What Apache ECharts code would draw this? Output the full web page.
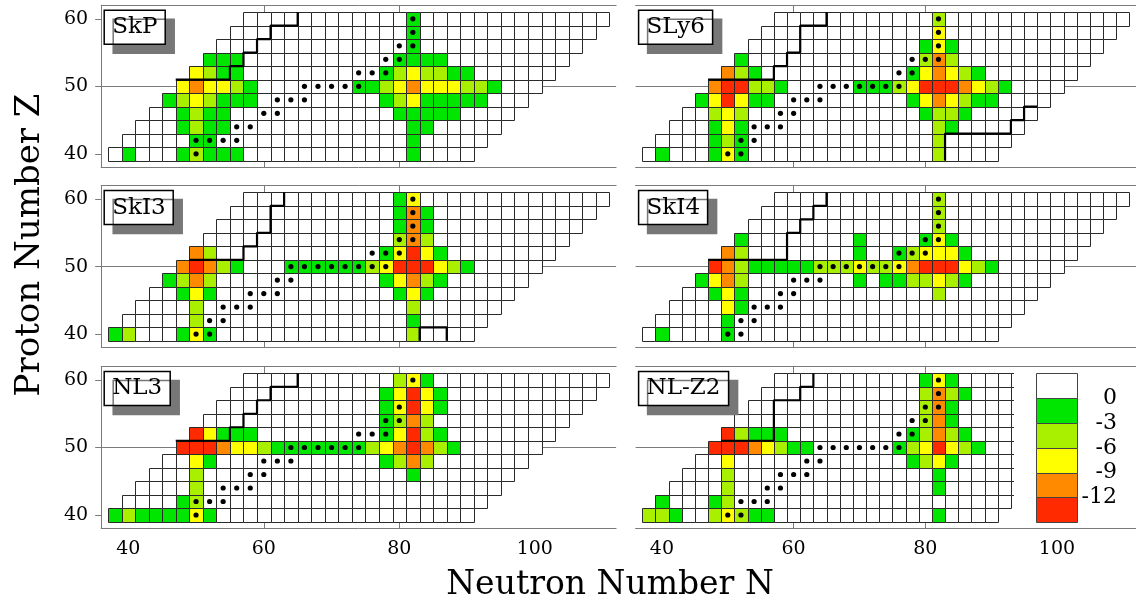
<!DOCTYPE html>
<html>
<head>
<meta charset="utf-8">
<script src="https://cdn.jsdelivr.net/npm/echarts@6/dist/echarts.min.js"></script>
<style>
html, body { margin: 0; padding: 0; background: #fff; }
#chart { width: 1136px; height: 605px; }
</style>
</head>
<body>
<div id="chart"></div>
<script>
// colour classes (energy bins of the colour bar)
const G = -1.5, L = -4.5, Y = -7.5, O = -10.5, R = -13.5;

// nuclide rows: proton number and first / last neutron number drawn
const rowZ      = [40, 42, 44, 46, 48, 50, 52, 54, 56, 58, 60];
const rowFirstN = [38, 40, 42, 44, 46, 48, 50, 52, 54, 56, 58];
const rowLastN  = [90, 92, 94, 96, 98, 100, 102, 104, 106, 108, 110];

const panelNames = ['SkP', 'SLy6', 'SkI3', 'SkI4', 'NL3', 'NL-Z2'];

// coloured cells as runs: [Z, first N, value, value, ...] (N steps by 2)
const skpRuns = [
  [60, 82, G], [58, 82, G], [56, 82, G],
  [54, 52, G, G, G], [54, 80, G, G, G, G],
  [52, 50, Y, L, G, G], [52, 78, G, L, Y, L, L, G, G],
  [50, 48, Y, O, Y, Y, L, G], [50, 74, G, G, L, Y, O, Y, Y, Y, L, L, G],
  [48, 46, G, L, Y, L, G, G, G], [48, 78, G, L, Y, G, G, G, G, G],
  [46, 48, G, L, G, G], [46, 80, G, G, G, G, G],
  [44, 48, G, L, G, G], [44, 82, G, G],
  [42, 50, G, G], [42, 82, G],
  [40, 40, G], [40, 48, G, L, G, G, G], [40, 82, G]
];
const sly6Runs = [
  [60, 82, L], [58, 82, Y], [56, 80, G, Y, G],
  [54, 52, G], [54, 80, L, O, L],
  [52, 50, O, L, G], [52, 78, G, Y, O, Y, L, G],
  [50, 48, O, R, R, L, L, G], [50, 70, G, G, G, L, Y, R, R, R, O, Y, L, G],
  [48, 46, G, Y, R, Y, G, G], [48, 78, G, Y, O, Y, L, G, G],
  [46, 48, L, Y, L], [46, 80, G, L, L, G],
  [44, 48, G, Y, G], [44, 82, L, G],
  [42, 48, G, L, G], [42, 82, L],
  [40, 40, G], [40, 48, G, Y, G], [40, 82, L]
];
const ski3Runs = [
  [60, 80, G, Y], [58, 80, G, O, G], [56, 80, G, O, G], [54, 80, L, O, L],
  [52, 50, O, L], [52, 78, G, Y, R, Y, G],
  [50, 48, O, R, O, L, G], [50, 64, G, G, G, G, G, G, L, Y, R, R, R, Y, L, G],
  [48, 46, G, L, O, L], [48, 78, G, Y, O, L, G],
  [46, 48, G, Y, G], [46, 80, G, Y, G],
  [44, 50, L], [44, 82, L],
  [42, 50, L], [42, 82, G],
  [40, 38, G, L], [40, 48, G, Y, G], [40, 82, L]
];
const ski4Runs = [
  [60, 82, L], [58, 82, L], [56, 82, L],
  [54, 52, G], [54, 70, G], [54, 80, G, Y, G],
  [52, 50, O, L], [52, 70, G], [52, 76, G, L, Y, Y, Y, G],
  [50, 48, R, O, L, G, G, G, G, G, L, L, L, Y, L, L, Y, O, R, R, R, Y, L, G],
  [48, 46, G, Y, O, L], [48, 70, G], [48, 74, G, G, L, L, Y, L, G],
  [46, 48, G, Y, G], [46, 82, L],
  [44, 50, Y, G],
  [42, 50, G],
  [40, 40, G], [40, 50, G]
];
const nl3Runs = [
  [60, 80, L, Y, G], [58, 78, G, Y, R, Y, G], [56, 78, G, Y, R, Y, G],
  [54, 78, G, L, O, L],
  [52, 50, R, Y, G, G, G], [52, 78, G, Y, R, L, G],
  [50, 48, R, R, R, O, Y, Y, L, G, G, G, G, G, G, G, L, Y, O, R, O, L, G],
  [48, 50, Y, G], [48, 78, G, L, O, L],
  [46, 50, L], [46, 82, G],
  [44, 50, L],
  [42, 48, G, L],
  [40, 38, G, L, G, G, G, G, Y, G]
];
const nlz2Runs = [
  [60, 80, G, Y, G], [58, 80, L, O, L, G], [56, 80, L, O, G], [54, 80, L, O, G],
  [52, 50, R, L, G, G, G], [52, 78, G, L, O, L, G],
  [50, 48, R, R, R, O, Y, L, G, G], [50, 76, G, L, Y, R, Y, L, G],
  [48, 50, Y], [48, 78, G, L, Y, G],
  [46, 50, L], [46, 82, G],
  [44, 50, L], [44, 82, G],
  [42, 40, G], [42, 48, G, L],
  [40, 38, L, L, G], [40, 48, L, Y, L, G, G], [40, 82, G]
];

// marked nuclei (black dots): [Z, N, N, ...]
const skpDots  = [[60, 82], [58, 82], [56, 80, 82], [54, 78, 80], [52, 74, 76, 78], [50, 66, 68, 70, 72, 74], [48, 62, 64, 66], [46, 60, 62], [44, 56, 58], [42, 50, 52, 54, 56], [40, 50]];
const sly6Dots = [[60, 82], [58, 82], [56, 82], [54, 78, 80, 82], [52, 76, 78], [50, 64, 66, 68, 70, 72, 74, 76], [48, 60, 62, 64], [46, 58, 60], [44, 54, 56, 58], [42, 52, 54], [40, 50, 52]];
const ski3Dots = [[60, 82], [58, 82], [56, 82], [54, 80, 82], [52, 76, 78, 80], [50, 64, 66, 68, 70, 72, 74, 76, 78], [48, 62, 64], [46, 58, 60, 62], [44, 54, 56, 58], [42, 52, 54], [40, 50, 52]];
const ski4Dots = [[60, 82], [58, 82], [56, 82], [54, 80, 82], [52, 76, 78, 80], [50, 64, 66, 68, 70, 72, 74, 76], [48, 60, 62, 64], [46, 58, 60], [44, 54, 56, 58], [42, 52, 54], [40, 50, 52]];
const nl3Dots  = [[60, 82], [56, 80], [54, 78, 80], [52, 74, 76, 78], [50, 64, 66, 68, 70, 72, 74], [48, 60, 62, 64], [46, 58, 60], [44, 54, 56, 58], [42, 50, 52, 54], [40, 50]];
const nlz2Dots = [[60, 82], [58, 82], [56, 80, 82], [54, 78, 80], [52, 76, 78], [50, 64, 66, 68, 70, 72, 74, 76], [48, 62, 64], [46, 58, 60, 62], [44, 56, 58], [42, 52, 54, 56], [40, 50, 52]];

// black boundary lines, [N, Z] on cell edges
const skpLines  = [[[47, 51], [55, 51], [55, 53], [57, 53], [57, 55], [59, 55], [59, 57], [61, 57], [61, 59], [65, 59], [65, 61]]];
const sly6Lines = [[[47, 51], [57, 51], [57, 53], [59, 53], [59, 55], [61, 55], [61, 59], [65, 59], [65, 61]],
                   [[83, 39], [83, 43], [93, 43], [93, 45], [95, 45], [95, 47], [97, 47]]];
const ski3Lines = [[[49, 51], [57, 51], [57, 53], [59, 53], [59, 55], [61, 55], [61, 59], [63, 59], [63, 61]],
                   [[83, 39], [83, 41], [87, 41], [87, 39]]];
const ski4Lines = [[[47, 51], [59, 51], [59, 55], [61, 55], [61, 57], [63, 57], [63, 59], [65, 59], [65, 61]]];
const nl3Lines  = [[[47, 51], [55, 51], [55, 53], [57, 53], [57, 55], [59, 55], [59, 57], [61, 57], [61, 59], [65, 59], [65, 61]]];
const nlz2Lines = [[[49, 51], [57, 51], [57, 57], [61, 57], [61, 59], [63, 59], [63, 61]]];

// colour bar: band top, band bottom, value
const barBands = [[3, 0, 1.5], [0, -3, -1.5], [-3, -6, -4.5], [-6, -9, -7.5], [-9, -12, -10.5], [-12, -15, -13.5]];
const barLabels = [0, -3, -6, -9, -12];

const xTicks = [40, 60, 80, 100];
const yTicks = [40, 50, 60];

const allRuns = [skpRuns, sly6Runs, ski3Runs, ski4Runs, nl3Runs, nlz2Runs];
const allDots = [skpDots, sly6Dots, ski3Dots, ski4Dots, nl3Dots, nlz2Dots];
const allLines = [skpLines, sly6Lines, ski3Lines, ski4Lines, nl3Lines, nlz2Lines];

function buildCells(runs) {
  const color = {};
  runs.forEach(r => {
    for (let k = 2; k < r.length; k++) color[(r[1] + 2 * (k - 2)) + '_' + r[0]] = r[k];
  });
  const out = [];
  rowZ.forEach((z, i) => {
    for (let n = rowFirstN[i]; n <= rowLastN[i]; n += 2) {
      const v = color[n + '_' + z];
      out.push([n, z, v === undefined ? 0 : v]);
    }
  });
  return out;
}
function buildDots(rows) {
  const out = [];
  rows.forEach(r => { for (let k = 1; k < r.length; k++) out.push([r[k], r[0]]); });
  return out;
}

const colLeft = [101.2, 635.6];
const rowTop = [5.3, 185.6, 366.5];
const gridW = 76 * 6.775, gridH = 24 * 6.75;
const serif = 'DejaVu Serif';
const frame = '#7a7a7a';

function crispRect(api, a, b, stroke) {
  const x0 = Math.round(a[0]) + 0.5, y0 = Math.round(a[1]) + 0.5;
  const x1 = Math.round(b[0]) + 0.5, y1 = Math.round(b[1]) + 0.5;
  return {
    type: 'rect',
    shape: { x: x0, y: y0, width: x1 - x0, height: y1 - y0 },
    style: { fill: api.visual('color'), stroke: stroke, lineWidth: 1 }
  };
}
function renderCell(params, api) {
  const n = api.value(0), z = api.value(1);
  return crispRect(api, api.coord([n - 1, z + 1]), api.coord([n + 1, z - 1]), '#2a2a2a');
}
function renderBand(params, api) {
  return crispRect(api, api.coord([0, api.value(0)]), api.coord([1, api.value(1)]), '#444');
}

const grids = [], xAxes = [], yAxes = [], series = [], titles = [], cellSeries = [];
panelNames.forEach((name, p) => {
  const r = Math.floor(p / 2), c = p % 2;
  grids.push({ left: colLeft[c], top: rowTop[r], width: gridW, height: gridH });
  // bottom axis
  xAxes.push({
    gridIndex: p, type: 'value', min: 36, max: 112, position: 'bottom',
    axisLine: { show: true, onZero: false, lineStyle: { color: frame, width: 1 } },
    axisTick: { show: false, customValues: xTicks },
    axisLabel: { show: r === 2, customValues: xTicks, margin: 11, color: '#000', fontFamily: serif, fontSize: 19 },
    splitLine: { show: true, showMinLine: false, showMaxLine: false, lineStyle: { color: frame, width: 1 } }
  });
  yAxes.push({
    gridIndex: p, type: 'value', min: 38, max: 62, splitNumber: 2,
    axisLine: { show: c === 0, onZero: false, lineStyle: { color: frame, width: 1 } },
    axisTick: { show: c === 0, customValues: yTicks, length: 6, lineStyle: { color: frame } },
    axisLabel: { show: c === 0, customValues: yTicks, margin: 13, color: '#000', fontFamily: serif, fontSize: 19 },
    splitLine: { show: true, showMinLine: false, showMaxLine: false, lineStyle: { color: frame, width: 1 } }
  });
  cellSeries.push(series.length);
  series.push({ type: 'custom', xAxisIndex: p, yAxisIndex: p, z: 2, clip: true,
    renderItem: renderCell, data: buildCells(allRuns[p]) });
  series.push({ type: 'scatter', xAxisIndex: p, yAxisIndex: p, z: 3, symbolSize: 5.2,
    itemStyle: { color: '#000', opacity: 1 }, data: buildDots(allDots[p]) });
  allLines[p].forEach(path => {
    series.push({ type: 'line', xAxisIndex: p, yAxisIndex: p, z: 4, symbol: 'none',
      lineStyle: { color: '#000', width: 2.2 }, data: path });
  });
  titles.push({
    text: name, left: colLeft[c] + 3, top: rowTop[r] + 5,
    padding: [5, 8], backgroundColor: '#fff', borderColor: '#000', borderWidth: 1.5,
    shadowColor: '#777', shadowOffsetX: 9, shadowOffsetY: 9, shadowBlur: 0,
    textStyle: { fontFamily: serif, fontSize: 23, fontWeight: 'normal', color: '#000', lineHeight: 24 }
  });
});
// top frame line of every panel
panelNames.forEach((name, p) => {
  xAxes.push({
    gridIndex: p, type: 'value', min: 36, max: 112, position: 'top',
    axisLine: { show: true, onZero: false, lineStyle: { color: frame, width: 1 } },
    axisTick: { show: false }, axisLabel: { show: false }, splitLine: { show: false }
  });
});

// colour bar in its own small grid
const barGrid = grids.length;
grids.push({ left: 1036, top: 373.3, width: 41, height: 149 });
xAxes.push({ gridIndex: barGrid, type: 'value', min: 0, max: 1, show: false });
yAxes.push({
  gridIndex: barGrid, type: 'value', min: -15, max: 3, interval: 3, position: 'right', z: 12,
  axisLine: { show: false }, axisTick: { show: false }, splitLine: { show: false },
  axisLabel: { margin: 40, align: 'right', color: '#000', fontFamily: serif, fontSize: 22,
    formatter: v => (barLabels.indexOf(v) >= 0 ? String(v) : '') }
});
cellSeries.push(series.length);
series.push({ type: 'custom', xAxisIndex: xAxes.length - 1, yAxisIndex: barGrid, z: 12,
  renderItem: renderBand, data: barBands });

const chart = echarts.init(document.getElementById('chart'));
chart.setOption({
  animation: false,
  backgroundColor: '#fff',
  title: titles,
  grid: grids,
  xAxis: xAxes,
  yAxis: yAxes,
  visualMap: {
    type: 'piecewise', show: false, dimension: 2, seriesIndex: cellSeries,
    pieces: [
      { gte: 0, color: '#ffffff' },
      { gte: -3, lt: 0, color: '#00e600' },
      { gte: -6, lt: -3, color: '#a8f000' },
      { gte: -9, lt: -6, color: '#ffff00' },
      { gte: -12, lt: -9, color: '#ff8a00' },
      { lt: -12, color: '#ff2a00' }
    ]
  },
  graphic: [
    { type: 'rect', z: 10, shape: { x: 1014, y: 367, width: 130, height: 159 }, style: { fill: '#fff' } },
    { type: 'text', x: 30, y: 245, rotation: Math.PI / 2, z: 10,
      style: { text: 'Proton Number Z', fontFamily: serif, fontSize: 34, fill: '#000',
        align: 'center', verticalAlign: 'middle', textAlign: 'center', textVerticalAlign: 'middle' } },
    { type: 'text', x: 610, y: 585, z: 10,
      style: { text: 'Neutron Number N', fontFamily: serif, fontSize: 33, fill: '#000',
        align: 'center', verticalAlign: 'middle', textAlign: 'center', textVerticalAlign: 'middle' } }
  ],
  series: series
});
</script>
</body>
</html>
